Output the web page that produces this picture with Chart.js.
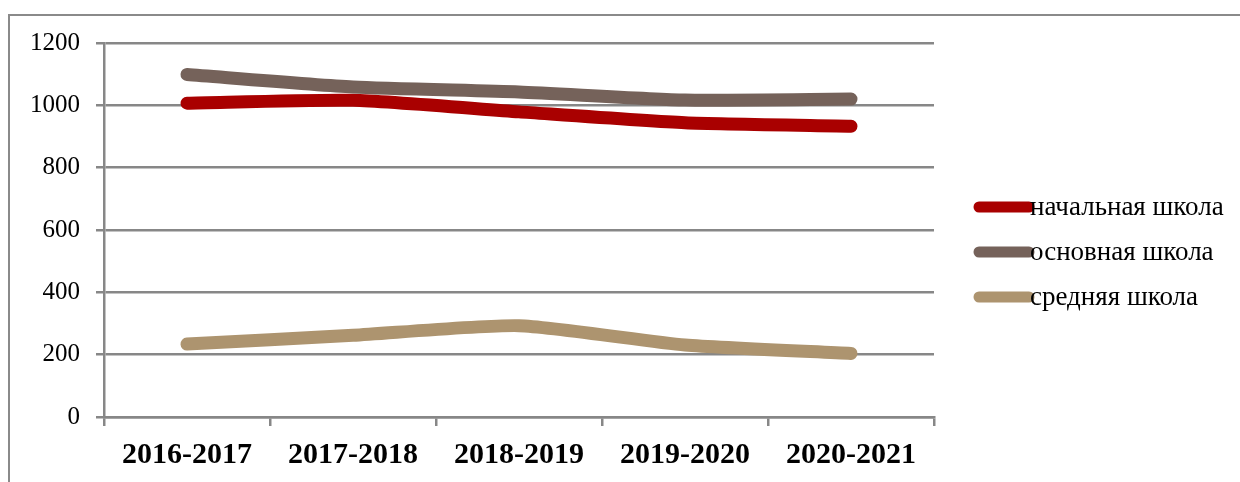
<!DOCTYPE html>
<html>
<head>
<meta charset="utf-8">
<script src="https://cdn.jsdelivr.net/npm/chart.js@4/dist/chart.umd.min.js"></script>
<style>
html,body{margin:0;padding:0;background:#fff;}
#wrap{position:relative;width:1240px;height:482px;}
</style>
</head>
<body>
<div id="wrap"><canvas id="c" width="1240" height="482"></canvas></div>
<script>
const categories = ["2016-2017", "2017-2018", "2018-2019", "2019-2020", "2020-2021"];
const seriesNames = ["начальная школа", "основная школа", "средняя школа"];
const primaryValues = [1007, 1016, 979, 944, 933];
const basicValues = [1099, 1059, 1043, 1017, 1020];
const secondaryValues = [234, 262, 293, 231, 204];
const yTicks = [0, 200, 400, 600, 800, 1000, 1200];
const colors = ["#A90000", "#75625A", "#AD946F"];

const serif = "'Liberation Serif', 'Times New Roman', serif";

const frame = {
  id: 'frame',
  beforeDraw(chart) {
    const ctx = chart.ctx;
    ctx.save();
    ctx.fillStyle = '#fff';
    ctx.fillRect(0, 0, chart.width, chart.height);
    ctx.strokeStyle = '#8a8a8a';
    ctx.lineWidth = 2;
    ctx.strokeRect(9, 15, 1300, 600);
    ctx.restore();
  }
};

const customLegend = {
  id: 'customLegend',
  afterDraw(chart) {
    const ctx = chart.ctx;
    const x0 = chart.chartArea.right + 40;
    const yStart = 207, step = 45;
    ctx.save();
    chart.data.datasets.forEach((ds, i) => {
      const y = yStart + i * step;
      ctx.strokeStyle = ds.borderColor;
      ctx.lineWidth = 11;
      ctx.lineCap = 'round';
      ctx.beginPath();
      ctx.moveTo(x0 + 5, y);
      ctx.lineTo(x0 + 55, y);
      ctx.stroke();
      ctx.fillStyle = '#000';
      ctx.font = "27px " + serif;
      ctx.textBaseline = 'middle';
      ctx.textAlign = 'left';
      ctx.fillText(ds.label, x0 + 56, y + 1);
    });
    ctx.restore();
  }
};

new Chart(document.getElementById('c'), {
  type: 'line',
  data: {
    labels: categories,
    datasets: [
      { label: seriesNames[0], data: primaryValues, borderColor: colors[0], order: 1 },
      { label: seriesNames[1], data: basicValues, borderColor: colors[1], order: 0 },
      { label: seriesNames[2], data: secondaryValues, borderColor: colors[2], order: 2 }
    ].map(d => Object.assign(d, {
      backgroundColor: d.borderColor,
      borderWidth: 13,
      borderCapStyle: 'round',
      borderJoinStyle: 'round',
      pointRadius: 0,
      pointHoverRadius: 0,
      tension: 0.2,
      fill: false
    }))
  },
  options: {
    responsive: false,
    animation: false,
    events: [],
    layout: { padding: { top: 43, right: 306, left: 0, bottom: 0 } },
    plugins: { legend: { display: false }, tooltip: { enabled: false } },
    scales: {
      x: {
        offset: true,
        grid: { display: true, drawOnChartArea: false, drawTicks: true, tickLength: 9, color: '#878787', lineWidth: 2.5, offset: true },
        border: { display: true, color: '#878787', width: 2.5 },
        ticks: { color: '#000', font: { family: serif, size: 30, weight: 'bold' }, padding: 11, maxRotation: 0, autoSkip: false },
        afterFit(s) { s.height = 65; }
      },
      y: {
        min: 0, max: 1200,
        afterBuildTicks(s) { s.ticks = yTicks.map(v => ({ value: v })); },
        grid: { color: '#878787', lineWidth: 2.5, tickLength: 8, drawTicks: true },
        border: { display: true, color: '#878787', width: 2.5 },
        ticks: { color: '#000', font: { family: serif, size: 25 }, padding: 16, callback: v => String(v) },
        afterFit(s) { s.width = 104; }
      }
    }
  },
  plugins: [frame, customLegend]
});
</script>
</body>
</html>
